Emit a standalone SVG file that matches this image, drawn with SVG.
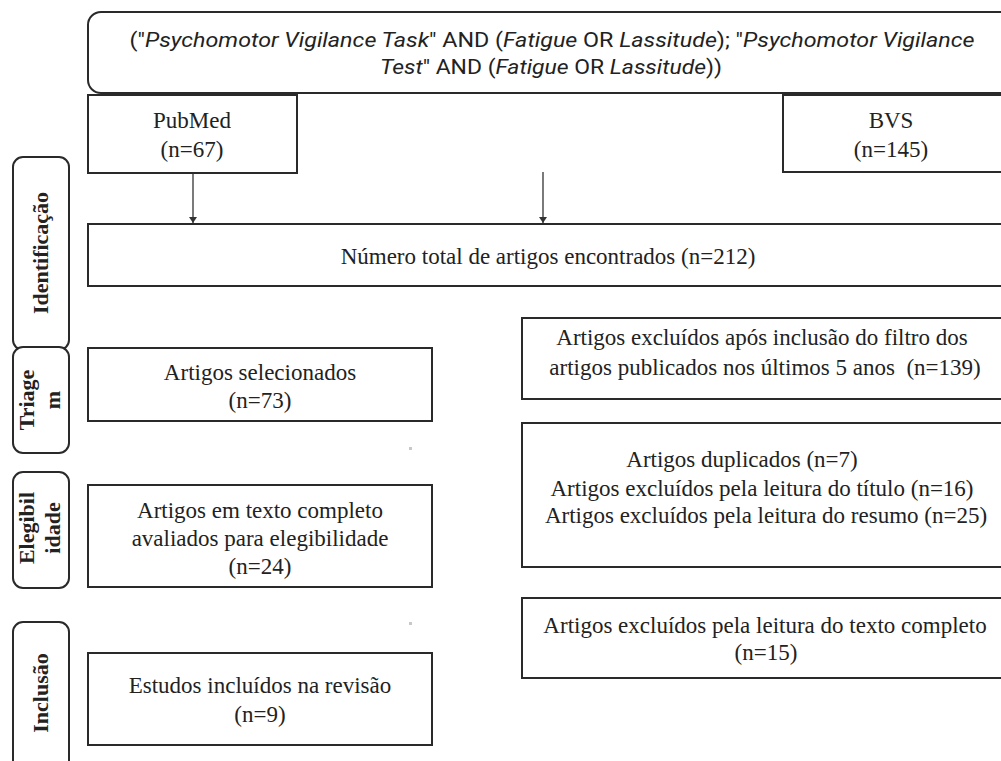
<svg xmlns="http://www.w3.org/2000/svg" width="1001" height="761" viewBox="0 0 1001 761">
<style>
.box{fill:#fff;stroke:#2a2a2a;stroke-width:2}
.side{fill:#fff;stroke:#2a2a2a;stroke-width:2}
.t{font-family:"Liberation Serif","Times New Roman",serif;font-size:23px;fill:#222;text-anchor:middle}
.s{font-family:"Liberation Serif","Times New Roman",serif;font-size:22px;font-weight:bold;fill:#222;text-anchor:middle}
.q{font-family:Roboto,"Liberation Sans",sans-serif;font-size:21px;fill:#222;text-anchor:middle}
.conn{stroke:#333;stroke-width:1.3;fill:none}
</style>
<defs>
<marker id="ah" markerWidth="6" markerHeight="8" refX="6" refY="4" orient="auto" markerUnits="userSpaceOnUse">
<path d="M0,0 L6,4 L0,8 z" fill="#333"/>
</marker>
</defs>
<rect width="1001" height="761" fill="#fff"/>

<g id="query">
<rect class="box" x="88" y="12" width="940" height="81" rx="13"/>
<text class="q" x="552" y="47" textLength="845" lengthAdjust="spacingAndGlyphs">("<tspan font-style="italic">Psychomotor Vigilance Task</tspan>" AND (<tspan font-style="italic">Fatigue</tspan> OR <tspan font-style="italic">Lassitude</tspan>); "<tspan font-style="italic">Psychomotor Vigilance</tspan></text>
<text class="q" x="551" y="74" textLength="342" lengthAdjust="spacingAndGlyphs"><tspan font-style="italic">Test</tspan>" AND (<tspan font-style="italic">Fatigue</tspan> OR <tspan font-style="italic">Lassitude</tspan>))</text>
</g>

<g id="pubmed">
<rect class="box" x="88" y="95" width="209" height="78"/>
<text class="t" x="192" y="128">PubMed</text>
<text class="t" x="192" y="157">(n=67)</text>
</g>

<g id="bvs">
<rect class="box" x="783" y="95" width="240" height="77"/>
<text class="t" x="891" y="128">BVS</text>
<text class="t" x="891" y="157">(n=145)</text>
</g>

<g id="total">
<rect class="box" x="88" y="224" width="940" height="62"/>
<text class="t" x="548" y="264">Número total de artigos encontrados (n=212)</text>
</g>

<g id="connectors">
<line class="conn" x1="193" y1="174" x2="193" y2="223" marker-end="url(#ah)"/>
<line class="conn" x1="543" y1="172" x2="543" y2="223" marker-end="url(#ah)"/>
</g>

<g id="label-identificacao">
<rect class="side" x="13" y="157" width="56" height="193" rx="10"/>
<text class="s" transform="translate(48,253) rotate(-90)">Identificação</text>
</g>
<g id="label-triagem">
<rect class="side" x="13" y="347" width="56" height="106" rx="10"/>
<text class="s" transform="translate(34,400) rotate(-90)">Triage</text>
<text class="s" transform="translate(60,400) rotate(-90)">m</text>
</g>
<g id="label-elegibilidade">
<rect class="side" x="13" y="472" width="56" height="116" rx="10"/>
<text class="s" transform="translate(34,528) rotate(-90)">Elegibil</text>
<text class="s" transform="translate(60,528) rotate(-90)">idade</text>
</g>
<g id="label-inclusao">
<rect class="side" x="13" y="622" width="56" height="150" rx="10"/>
<text class="s" transform="translate(48,693) rotate(-90)">Inclusão</text>
</g>

<g id="selecionados">
<rect class="box" x="88" y="348" width="344" height="73"/>
<text class="t" x="260" y="380">Artigos selecionados</text>
<text class="t" x="260" y="408">(n=73)</text>
</g>

<g id="elegibilidade">
<rect class="box" x="88" y="485" width="344" height="102"/>
<text class="t" x="260" y="518">Artigos em texto completo</text>
<text class="t" x="260" y="546">avaliados para elegibilidade</text>
<text class="t" x="260" y="574">(n=24)</text>
</g>

<g id="incluidos">
<rect class="box" x="88" y="653" width="344" height="92"/>
<text class="t" x="260" y="693">Estudos incluídos na revisão</text>
<text class="t" x="260" y="722">(n=9)</text>
</g>

<g id="excl-filtro">
<rect class="box" x="522" y="318" width="510" height="81"/>
<text class="t" x="762" y="345">Artigos excluídos após inclusão do filtro dos</text>
<text class="t" x="765" y="375" xml:space="preserve">artigos publicados nos últimos 5 anos  (n=139)</text>
</g>

<g id="excl-triagem">
<rect class="box" x="522" y="423" width="510" height="144"/>
<text class="t" x="742" y="467">Artigos duplicados (n=7)</text>
<text class="t" x="762" y="496">Artigos excluídos pela leitura do título (n=16)</text>
<text class="t" x="766" y="523">Artigos excluídos pela leitura do resumo (n=25)</text>
</g>

<g id="excl-texto">
<rect class="box" x="522" y="598" width="510" height="80"/>
<text class="t" x="765" y="633">Artigos excluídos pela leitura do texto completo</text>
<text class="t" x="766" y="660">(n=15)</text>
</g>

<rect x="409" y="447" width="3" height="3" fill="#c8c8c8"/>
<rect x="409" y="622" width="3" height="3" fill="#c8c8c8"/>
</svg>
